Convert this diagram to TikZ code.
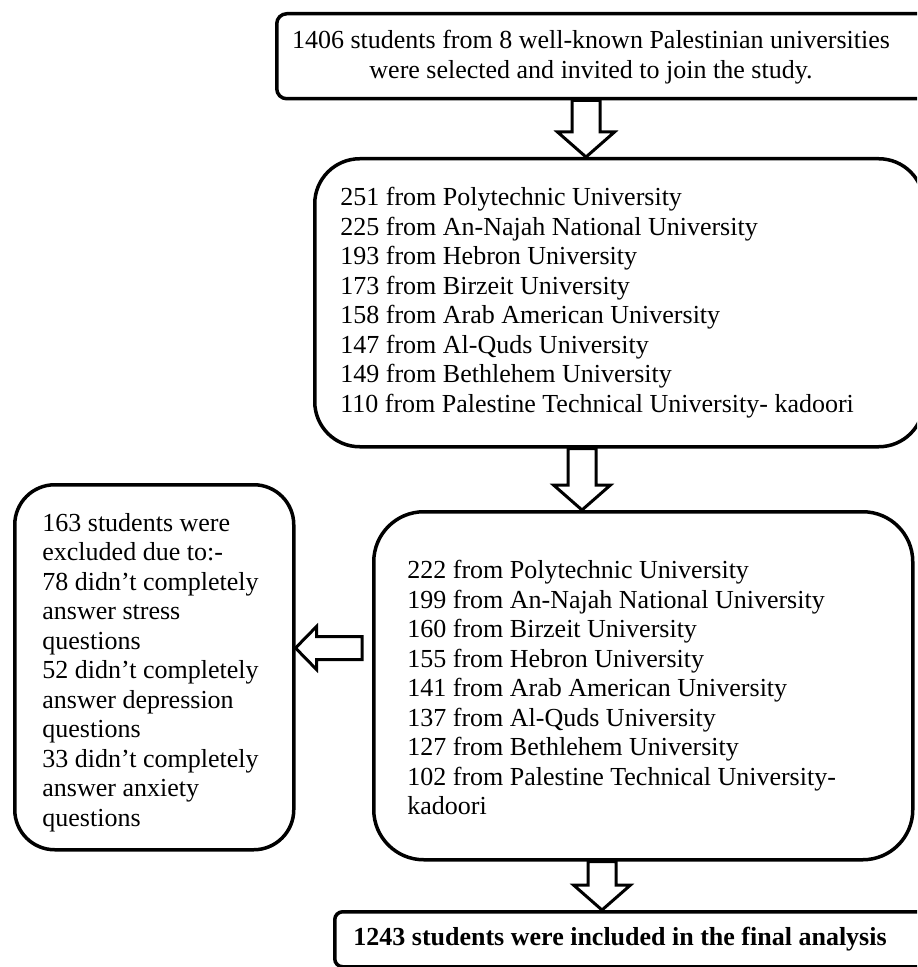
\documentclass[tikz,border=0pt]{standalone}
\usepackage{fontspec}
\setmainfont{Liberation Serif}
\usetikzlibrary{calc}
\newcommand{\blockdown}[3]{%
  \draw[blockarrow] let \p1=(#1.south), \p2=(#2.north -| #3) in
    (\x2-7pt,\y1) -- (\x2-7pt,\y2+12.5pt) -- (\x2-14.25pt,\y2+12.5pt) -- (\x2,\y2)
    -- (\x2+14.25pt,\y2+12.5pt) -- (\x2+7pt,\y2+12.5pt) -- (\x2+7pt,\y1) -- cycle;}
\begin{document}
\begin{tikzpicture}[x=0.5pt,y=-0.5pt,
  box/.style={draw=black, line width=1.75pt, fill=white, inner sep=0pt, anchor=north west},
  txt/.style={font=\fontsize{13pt}{14.75pt}\selectfont, inner sep=0pt, align=left, anchor=west},
  blockarrow/.style={draw=black, line width=1.5pt, fill=white, line join=miter}]
\useasboundingbox (0,0) rectangle (917,967);
\clip (0,0) rectangle (917,967);
% boxes
\node[box, rounded corners=5pt, minimum width=335pt, minimum height=42.5pt] (T) at (275,12) {};
\node[box, rounded corners=22.5pt, minimum width=304.5pt, minimum height=144pt] (B2) at (313,157) {};
\node[box, rounded corners=25pt, minimum width=269.5pt, minimum height=174pt] (B3) at (372,510) {};
\node[box, rounded corners=20pt, minimum width=139.5pt, minimum height=182.5pt] (L) at (13,483) {};
\node[box, rounded corners=4pt, minimum width=306pt, minimum height=27.5pt] (F) at (333,910) {};
% texts
\node[txt, align=center, anchor=center] (Ttext) at ($(T.north west)+(316,45)$)
  {1406 students from 8 well-known Palestinian universities\\were selected and invited to join the study.};
\node[txt] (B2text) at ($(B2.west)+(27,0)$)
  {251 from Polytechnic University\\
   225 from An-Najah National University\\
   193 from Hebron University\\
   173 from Birzeit University\\
   158 from Arab American University\\
   147 from Al-Quds University\\
   149 from Bethlehem University\\
   110 from Palestine Technical University- kadoori};
\node[txt] (B3text) at ($(B3.west)+(35,2)$)
  {222 from Polytechnic University\\
   199 from An-Najah National University\\
   160 from Birzeit University\\
   155 from Hebron University\\
   141 from Arab American University\\
   137 from Al-Quds University\\
   127 from Bethlehem University\\
   102 from Palestine Technical University-\\
   kadoori};
\node[txt] (Ltext) at ($(L.west)+(29,5)$)
  {163 students were\\
   excluded due to:-\\
   78 didn’t completely\\
   answer stress\\
   questions\\
   52 didn’t completely\\
   answer depression\\
   questions\\
   33 didn’t completely\\
   answer anxiety\\
   questions};
\node[txt, font=\fontsize{13pt}{14.75pt}\selectfont\bfseries] (Ftext) at ($(F.west)+(20,0)$)
  {1243 students were included in the final analysis};
% block arrows
\coordinate (c1) at (586,0);
\coordinate (c2) at (582,0);
\coordinate (c3) at (602,0);
\blockdown{T}{B2}{c1}
\blockdown{B2}{B3}{c2}
\blockdown{B3}{F}{c3}
\coordinate (la) at (362,648);
\draw[blockarrow] let \p1=(la), \p2=(L.east |- la) in
  (\x1,\y1+5.75pt) -- (\x2+10.5pt,\y1+5.75pt) -- (\x2+10.5pt,\y1+10.75pt) -- (\x2,\y1)
  -- (\x2+10.5pt,\y1-10.75pt) -- (\x2+10.5pt,\y1-5.75pt) -- (\x1,\y1-5.75pt) -- cycle;
\end{tikzpicture}
\end{document}
